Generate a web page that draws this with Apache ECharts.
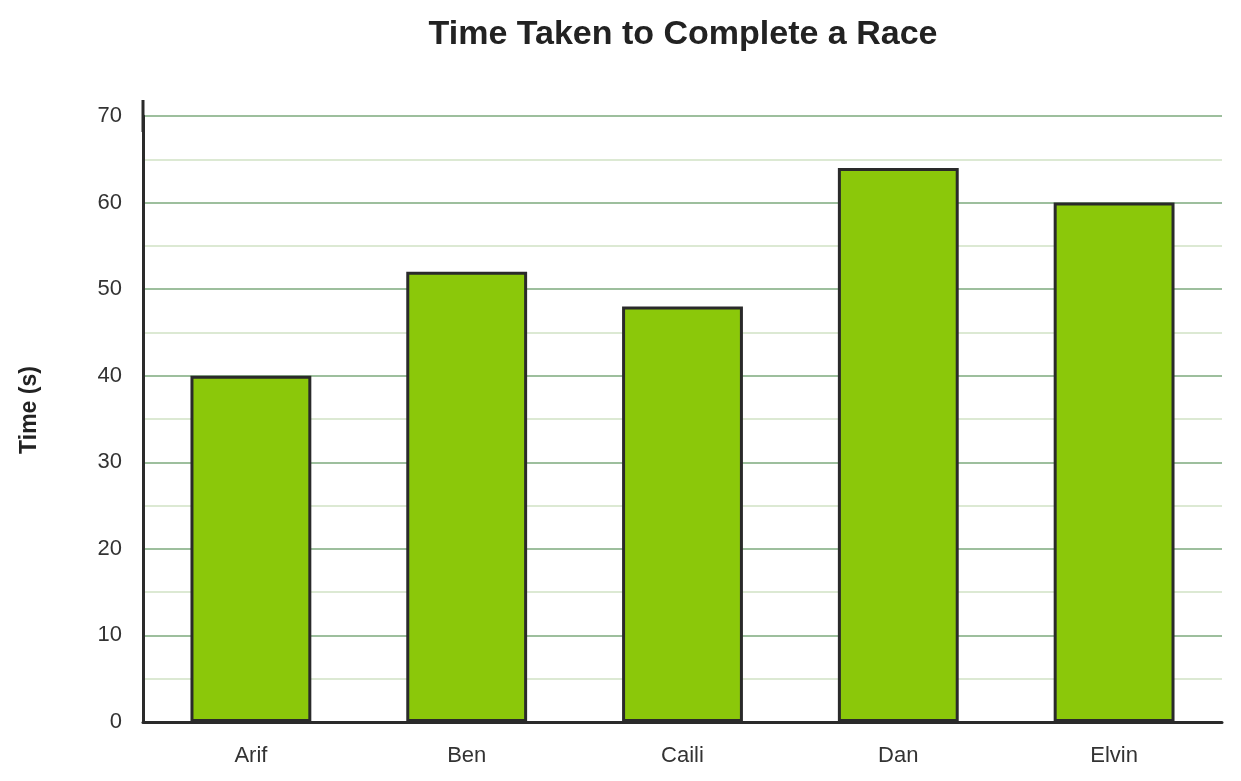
<!DOCTYPE html>
<html>
<head>
<meta charset="utf-8">
<script src="https://cdn.jsdelivr.net/npm/echarts@6/dist/echarts.min.js"></script>
<style>
html,body{margin:0;padding:0;background:#fff;}
#main{width:1241px;height:781px;}
</style>
</head>
<body>
<div id="main"></div>
<script>
const categories = ['Arif', 'Ben', 'Caili', 'Dan', 'Elvin'];
const times = [40, 52, 48, 64, 60];
const yTicks = { min: 0, max: 70, interval: 10 };

const chart = echarts.init(document.getElementById('main'), null, { renderer: 'canvas' });
chart.setOption({
  backgroundColor: '#ffffff',
  animation: false,
  textStyle: { fontFamily: 'Liberation Sans, Arial, sans-serif' },
  title: {
    text: 'Time Taken to Complete a Race',
    left: 678, top: 13, textAlign: 'center',
    textStyle: { fontSize: 34, fontWeight: 'bold', color: '#222222', fontFamily: 'Liberation Sans, Arial, sans-serif' }
  },
  grid: { left: 143, right: 19, top: 116, bottom: 59, containLabel: false },
  xAxis: {
    type: 'category',
    data: categories,
    axisLine: { show: true, lineStyle: { color: '#2a2a2a', width: 3 } },
    axisTick: { show: false },
    axisLabel: { fontSize: 22, color: '#333333', margin: 23 },
    splitLine: { show: false }
  },
  yAxis: {
    type: 'value',
    min: yTicks.min, max: yTicks.max, interval: yTicks.interval,
    name: 'Time (s)',
    nameLocation: 'middle',
    nameGap: 102,
    nameTextStyle: { fontSize: 23, fontWeight: 'bold', color: '#222222', padding: [0, 0, 0, 18] },
    axisLine: { show: true, lineStyle: { color: '#2a2a2a', width: 3 }, symbol: ['none', 'rect'], symbolSize: [3, 32], symbolOffset: [0, 0] },
    axisTick: { show: false },
    axisLabel: { fontSize: 22, color: '#333333', margin: 21 },
    splitLine: { show: true, lineStyle: { color: '#9dbf9d', width: 2 } },
    minorTick: { show: false, splitNumber: 2 },
    minorSplitLine: { show: true, lineStyle: { color: '#dce9d3', width: 2 } }
  },
  series: [{
    type: 'bar',
    data: times,
    barWidth: '56%',
    itemStyle: { color: '#8bc80a', borderColor: '#2a2a2a', borderWidth: 3 }
  }]
});
</script>
</body>
</html>
